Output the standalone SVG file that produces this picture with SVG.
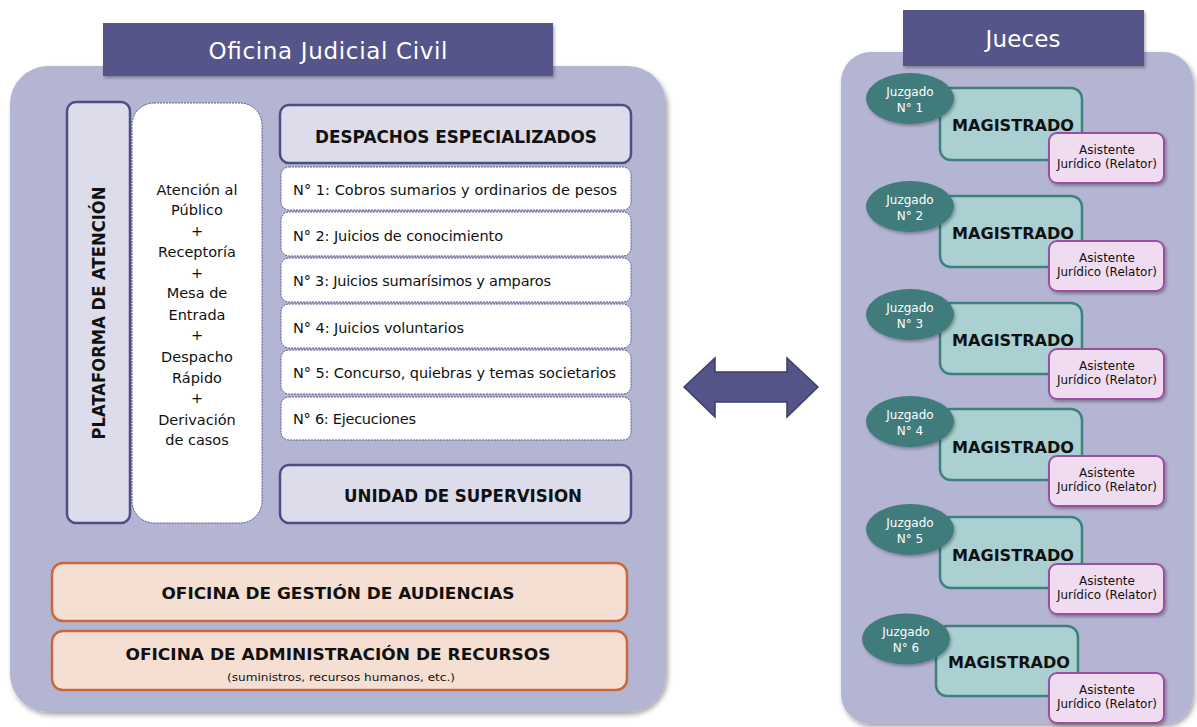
<svg xmlns="http://www.w3.org/2000/svg" width="1197" height="727" viewBox="0 0 1197 727">
<defs>
<filter id="sh" x="-10%" y="-10%" width="120%" height="120%"><feDropShadow dx="2" dy="3" stdDeviation="2.5" flood-color="#000" flood-opacity="0.35"/></filter>
<filter id="sh2" x="-10%" y="-10%" width="120%" height="130%"><feDropShadow dx="1.5" dy="2" stdDeviation="1.5" flood-color="#000" flood-opacity="0.3"/></filter>
<style>
text{font-family:"DejaVu Sans","Liberation Sans",sans-serif;}
.panel{fill:#b4b4d3;}
.title{fill:#545489;}
.ttl{fill:#fff;font-size:23px;text-anchor:middle;}
.hdr{fill:#dcdcea;stroke:#4e4e85;stroke-width:2.5;}
.item{fill:#fff;stroke:#5a5a8e;stroke-width:1;stroke-dasharray:2 1;}
.it{font-size:14.5px;fill:#111;}
.b{font-weight:bold;fill:#111;text-anchor:middle;}
.org{fill:#f5dfd2;stroke:#c9693b;stroke-width:2.5;}
.at{font-size:14.5px;fill:#111;text-anchor:middle;}
.ell{fill:#3f7b7c;}
.jt{fill:#fff;font-size:12px;text-anchor:middle;}
.mag{fill:#aad0d2;stroke:#3f8081;stroke-width:2.5;}
.ast{fill:#efdcf0;stroke:#9b4fa0;stroke-width:2;}
.as{fill:#111;font-size:12px;text-anchor:middle;}
.mt{font-size:16.5px;}
</style>
</defs>

<g id="oficina-judicial-civil">
<rect class="panel" x="10" y="66" width="656" height="646" rx="38" filter="url(#sh)"/>
<rect class="title" x="103" y="23" width="450" height="53" filter="url(#sh2)"/>
<text class="ttl" x="328" y="59" textLength="239">Oficina Judicial Civil</text>
</g>

<g id="plataforma">
<rect class="hdr" x="67" y="102" width="63" height="421" rx="9"/>
<text class="b" transform="translate(105,313) rotate(-90)" font-size="18" textLength="253" lengthAdjust="spacingAndGlyphs">PLATAFORMA DE ATENCIÓN</text>
</g>

<g id="atencion">
<rect x="132" y="103" width="130" height="420" rx="22" fill="#fff" stroke="#5a5a8e" stroke-width="1" stroke-dasharray="2 1"/>
<text class="at" x="197" y="195">Atención al</text>
<text class="at" x="197" y="215">Público</text>
<text class="at" x="197" y="236">+</text>
<text class="at" x="197" y="257">Receptoría</text>
<text class="at" x="197" y="278">+</text>
<text class="at" x="197" y="298">Mesa de</text>
<text class="at" x="197" y="320">Entrada</text>
<text class="at" x="197" y="340">+</text>
<text class="at" x="197" y="362">Despacho</text>
<text class="at" x="197" y="383">Rápido</text>
<text class="at" x="197" y="403">+</text>
<text class="at" x="197" y="425">Derivación</text>
<text class="at" x="197" y="445">de casos</text>
</g>

<g id="despachos">
<rect class="hdr" x="280" y="105" width="351" height="58" rx="9"/>
<text class="b" x="456" y="143" font-size="17" textLength="282" lengthAdjust="spacingAndGlyphs">DESPACHOS ESPECIALIZADOS</text>
</g>

<g id="despacho-1"><rect class="item" x="281" y="167" width="350" height="43" rx="8"/><text class="it" x="293" y="195" textLength="324">N° 1: Cobros sumarios y ordinarios de pesos</text></g>
<g id="despacho-2"><rect class="item" x="281" y="212" width="350" height="44" rx="8"/><text class="it" x="293" y="241" textLength="210">N° 2: Juicios de conocimiento</text></g>
<g id="despacho-3"><rect class="item" x="281" y="258" width="350" height="44" rx="8"/><text class="it" x="293" y="286" textLength="258">N° 3: Juicios sumarísimos y amparos</text></g>
<g id="despacho-4"><rect class="item" x="281" y="304" width="350" height="44" rx="8"/><text class="it" x="293" y="333" textLength="171">N° 4: Juicios voluntarios</text></g>
<g id="despacho-5"><rect class="item" x="281" y="350" width="350" height="44" rx="8"/><text class="it" x="293" y="378" textLength="323">N° 5: Concurso, quiebras y temas societarios</text></g>
<g id="despacho-6"><rect class="item" x="281" y="397" width="350" height="43" rx="8"/><text class="it" x="293" y="424" textLength="123">N° 6: Ejecuciones</text></g>

<g id="unidad-supervision">
<rect class="hdr" x="280" y="465" width="351" height="58" rx="9"/>
<text class="b" x="463" y="502" font-size="17" textLength="238" lengthAdjust="spacingAndGlyphs">UNIDAD DE SUPERVISION</text>
</g>

<g id="gestion-audiencias">
<rect class="org" x="52" y="563" width="575" height="58" rx="11"/>
<text class="b" x="338" y="599" font-size="16.5" textLength="353" lengthAdjust="spacingAndGlyphs">OFICINA DE GESTIÓN DE AUDIENCIAS</text>
</g>

<g id="administracion-recursos">
<rect class="org" x="52" y="631" width="575" height="59" rx="11"/>
<text class="b" x="338" y="660" font-size="16.5" textLength="425" lengthAdjust="spacingAndGlyphs">OFICINA DE ADMINISTRACIÓN DE RECURSOS</text>
<text x="341" y="681" font-size="11" fill="#111" text-anchor="middle" textLength="228" lengthAdjust="spacingAndGlyphs">(suministros, recursos humanos, etc.)</text>
</g>

<g id="connectors">
<path d="M684,387 L715,358 L715,372 L787,372 L787,358 L818,387 L787,417 L787,402 L715,402 L715,417 Z" fill="#545489" stroke="#3d3d6e" stroke-width="1.5" stroke-linejoin="miter"/>
</g>

<g id="jueces">
<rect class="panel" x="841" y="52" width="352" height="672" rx="30" filter="url(#sh)"/>
<rect class="title" x="903" y="10" width="241" height="56" filter="url(#sh2)"/>
<text class="ttl" x="1023" y="47" font-size="22" textLength="75">Jueces</text>
</g>

<g id="juzgado-1">
<rect class="mag" x="940" y="88" width="142" height="72" rx="11"/>
<text class="b mt" x="1013" y="131" textLength="122" lengthAdjust="spacingAndGlyphs">MAGISTRADO</text>
<ellipse class="ell" cx="910" cy="98.5" rx="44" ry="25.5" filter="url(#sh2)"/>
<text class="jt" x="910" y="96">Juzgado</text><text class="jt" x="910" y="112">N° 1</text>
<rect class="ast" x="1049" y="133" width="115" height="50" rx="8" filter="url(#sh2)"/>
<text class="as" x="1107" y="154">Asistente</text><text class="as" x="1107" y="168" textLength="100" lengthAdjust="spacingAndGlyphs">Jurídico (Relator)</text>
</g>

<g id="juzgado-2" transform="translate(0,108)">
<rect class="mag" x="940" y="88" width="142" height="71" rx="11"/>
<text class="b mt" x="1013" y="131" textLength="122" lengthAdjust="spacingAndGlyphs">MAGISTRADO</text>
<ellipse class="ell" cx="910" cy="98.5" rx="44" ry="25.5" filter="url(#sh2)"/>
<text class="jt" x="910" y="96">Juzgado</text><text class="jt" x="910" y="112">N° 2</text>
<rect class="ast" x="1049" y="133" width="115" height="50" rx="8" filter="url(#sh2)"/>
<text class="as" x="1107" y="154">Asistente</text><text class="as" x="1107" y="168" textLength="100" lengthAdjust="spacingAndGlyphs">Jurídico (Relator)</text>
</g>

<g id="juzgado-3" transform="translate(0,216)">
<rect class="mag" x="940" y="87" width="142" height="71" rx="11"/>
<text class="b mt" x="1013" y="130" textLength="122" lengthAdjust="spacingAndGlyphs">MAGISTRADO</text>
<ellipse class="ell" cx="910" cy="98.5" rx="44" ry="25.5" filter="url(#sh2)"/>
<text class="jt" x="910" y="96">Juzgado</text><text class="jt" x="910" y="112">N° 3</text>
<rect class="ast" x="1049" y="133" width="115" height="50" rx="8" filter="url(#sh2)"/>
<text class="as" x="1107" y="154">Asistente</text><text class="as" x="1107" y="168" textLength="100" lengthAdjust="spacingAndGlyphs">Jurídico (Relator)</text>
</g>

<g id="juzgado-4" transform="translate(0,323)">
<rect class="mag" x="940" y="86" width="142" height="71" rx="11"/>
<text class="b mt" x="1013" y="130" textLength="122" lengthAdjust="spacingAndGlyphs">MAGISTRADO</text>
<ellipse class="ell" cx="910" cy="98.5" rx="44" ry="25.5" filter="url(#sh2)"/>
<text class="jt" x="910" y="96">Juzgado</text><text class="jt" x="910" y="112">N° 4</text>
<rect class="ast" x="1049" y="133" width="115" height="50" rx="8" filter="url(#sh2)"/>
<text class="as" x="1107" y="154">Asistente</text><text class="as" x="1107" y="168" textLength="100" lengthAdjust="spacingAndGlyphs">Jurídico (Relator)</text>
</g>

<g id="juzgado-5" transform="translate(0,431)">
<rect class="mag" x="940" y="86" width="142" height="71" rx="11"/>
<text class="b mt" x="1013" y="130" textLength="122" lengthAdjust="spacingAndGlyphs">MAGISTRADO</text>
<ellipse class="ell" cx="910" cy="98.5" rx="44" ry="25.5" filter="url(#sh2)"/>
<text class="jt" x="910" y="96">Juzgado</text><text class="jt" x="910" y="112">N° 5</text>
<rect class="ast" x="1049" y="133" width="115" height="50" rx="8" filter="url(#sh2)"/>
<text class="as" x="1107" y="154">Asistente</text><text class="as" x="1107" y="168" textLength="100" lengthAdjust="spacingAndGlyphs">Jurídico (Relator)</text>
</g>

<g id="juzgado-6" transform="translate(0,540)">
<rect class="mag" x="936" y="86" width="142" height="70" rx="11"/>
<text class="b mt" x="1009" y="128" textLength="122" lengthAdjust="spacingAndGlyphs">MAGISTRADO</text>
<ellipse class="ell" cx="906" cy="99" rx="44" ry="25.5" filter="url(#sh2)"/>
<text class="jt" x="906" y="96">Juzgado</text><text class="jt" x="906" y="112">N° 6</text>
<rect class="ast" x="1049" y="133" width="115" height="50" rx="8" filter="url(#sh2)"/>
<text class="as" x="1107" y="154">Asistente</text><text class="as" x="1107" y="168" textLength="100" lengthAdjust="spacingAndGlyphs">Jurídico (Relator)</text>
</g>
</svg>
